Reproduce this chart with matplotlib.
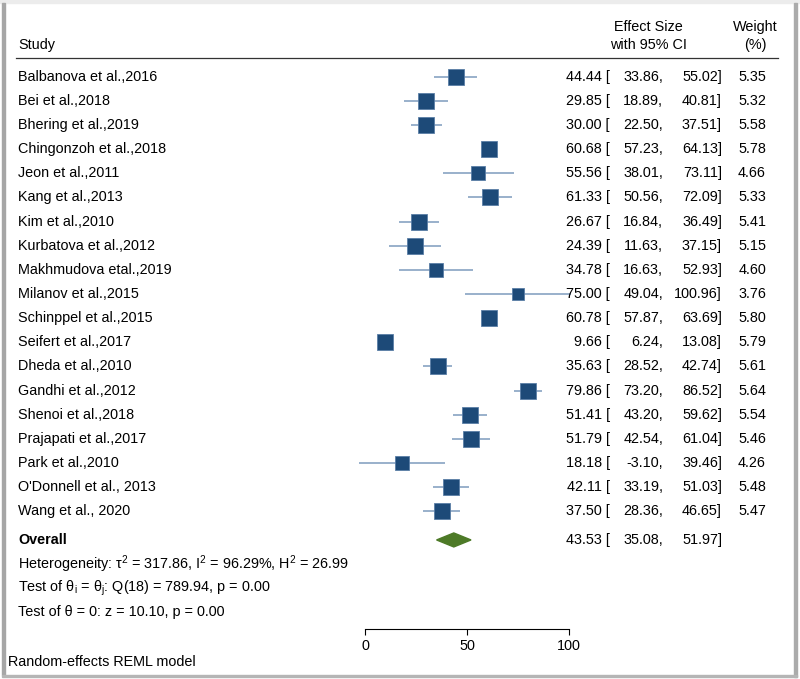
import numpy as np
import matplotlib
matplotlib.use("Agg")
import matplotlib.pyplot as plt
import matplotlib.transforms as mtransforms
from matplotlib.patches import Polygon, Rectangle

plt.rcParams['font.family'] = ['Liberation Sans', 'DejaVu Sans']
plt.rcParams['mathtext.fontset'] = 'custom'
plt.rcParams['mathtext.rm'] = 'Liberation Sans'
plt.rcParams['mathtext.it'] = 'Liberation Sans'

studies = ["Balbanova et al.,2016", "Bei et al.,2018", "Bhering et al.,2019",
           "Chingonzoh et al.,2018", "Jeon et al.,2011", "Kang et al.,2013",
           "Kim et al.,2010", "Kurbatova et al.,2012", "Makhmudova etal.,2019",
           "Milanov et al.,2015", "Schinppel et al.,2015", "Seifert et al.,2017",
           "Dheda et al.,2010", "Gandhi et al.,2012", "Shenoi et al.,2018",
           "Prajapati et al.,2017", "Park et al.,2010", "O'Donnell et al., 2013",
           "Wang et al., 2020"]
effect = [44.44, 29.85, 30.00, 60.68, 55.56, 61.33, 26.67, 24.39, 34.78, 75.00,
          60.78, 9.66, 35.63, 79.86, 51.41, 51.79, 18.18, 42.11, 37.50]
ci_low = [33.86, 18.89, 22.50, 57.23, 38.01, 50.56, 16.84, 11.63, 16.63, 49.04,
          57.87, 6.24, 28.52, 73.20, 43.20, 42.54, -3.10, 33.19, 28.36]
ci_high = [55.02, 40.81, 37.51, 64.13, 73.11, 72.09, 36.49, 37.15, 52.93, 100.96,
           63.69, 13.08, 42.74, 86.52, 59.62, 61.04, 39.46, 51.03, 46.65]
weight = [5.35, 5.32, 5.58, 5.78, 4.66, 5.33, 5.41, 5.15, 4.60, 3.76,
          5.80, 5.79, 5.61, 5.64, 5.54, 5.46, 4.26, 5.48, 5.47]
overall = [43.53, 35.08, 51.97]
xticks = [0, 50, 100]

W, H = 800, 679
fig = plt.figure(figsize=(W / 100, H / 100), dpi=100)
fs = 10.4

# forest panel: x in effect units, y in row units
ax = fig.add_axes([365 / W, 0, 204 / W, 1])
ax.set_xlim(0, 100)
ax.set_ylim(24.95, -3.177)
ax.patch.set_alpha(0)
for s in ['top', 'left', 'right']:
    ax.spines[s].set_visible(False)
ax.spines['bottom'].set_position(('data', 22.88))
ax.spines['bottom'].set_bounds(0, 100)
ax.spines['bottom'].set_linewidth(0.8)
ax.set_yticks([])
ax.set_xticks(xticks)
ax.tick_params(axis='x', direction='out', length=4, width=0.8, labelsize=fs, pad=3)

rows = np.arange(len(studies))
ax.hlines(rows, ci_low, ci_high, color='#7d9bbd', lw=1.1, clip_on=False, zorder=2)
for r, e, w in zip(rows, effect, weight):
    ax.plot(e, r, marker='s', ms=11.6 * np.sqrt(w / 5.79), color='#1d4a78',
            mec='#5a7ea6', mew=0.6, clip_on=False, zorder=3)

orow = 19.19
dia = Polygon([(overall[1], orow), (overall[0], orow - 0.29),
               (overall[2], orow), (overall[0], orow + 0.29)],
              closed=True, color='#4d7a27', zorder=3)
ax.add_patch(dia)

tr = mtransforms.blended_transform_factory(fig.transFigure, ax.transData)
def px(x):
    return x / W

def put(x, y, s, ha='left', **kw):
    ax.text(px(x), y, s, transform=tr, ha=ha, va='center', fontsize=fs, **kw)

# header
put(18, -1.31, "Study")
put(648, -2.06, "Effect Size", ha='center')
put(648, -1.31, "with 95% CI", ha='center')
put(755, -2.06, "Weight", ha='center')
put(755, -1.31, "(%)", ha='center')
ax.plot([px(16), px(778)], [-0.77, -0.77], transform=tr, color='#333333',
        lw=0.9, clip_on=False)

def ci_text(r, e, lo, hi, bold=False):
    kw = {'fontweight': 'bold'} if bold else {}
    put(610, r, f"{e:.2f} [", ha='right')
    put(663, r, f"{lo:.2f},", ha='right')
    put(722, r, f"{hi:.2f}]", ha='right')

for r in rows:
    put(18, r, studies[r])
    ci_text(r, effect[r], ci_low[r], ci_high[r])
    put(766, r, f"{weight[r]:.2f}", ha='right')

put(18, orow, "Overall", fontweight='bold')
ci_text(orow, *overall)
put(18, 20.19, r"Heterogeneity: τ$^2$ = 317.86, I$^2$ = 96.29%, H$^2$ = 26.99")
put(18, 21.18, r"Test of θ$_\mathrm{i}$ = θ$_\mathrm{j}$: Q(18) = 789.94, p = 0.00")
put(18, 22.17, "Test of θ = 0: z = 10.10, p = 0.00")
put(8, 24.25, "Random-effects REML model")

# frame
fig.patches.append(Rectangle((0, 1 - 3 / H), 1, 3 / H, transform=fig.transFigure,
                             color='#ececec', zorder=0))
fig.patches.append(Rectangle((2 / W, 4 / H), 3 / W, 1 - 7 / H, transform=fig.transFigure,
                             color='#a6a6a6', zorder=5))
fig.patches.append(Rectangle((794 / W, 2 / H), 3 / W, 1 - 5 / H, transform=fig.transFigure,
                             color='#ababab', zorder=5))
fig.patches.append(Rectangle((2 / W, 2 / H), 795 / W, 2 / H, transform=fig.transFigure,
                             color='#b5b5b5', zorder=5))

fig.savefig("out.png", dpi=100)
